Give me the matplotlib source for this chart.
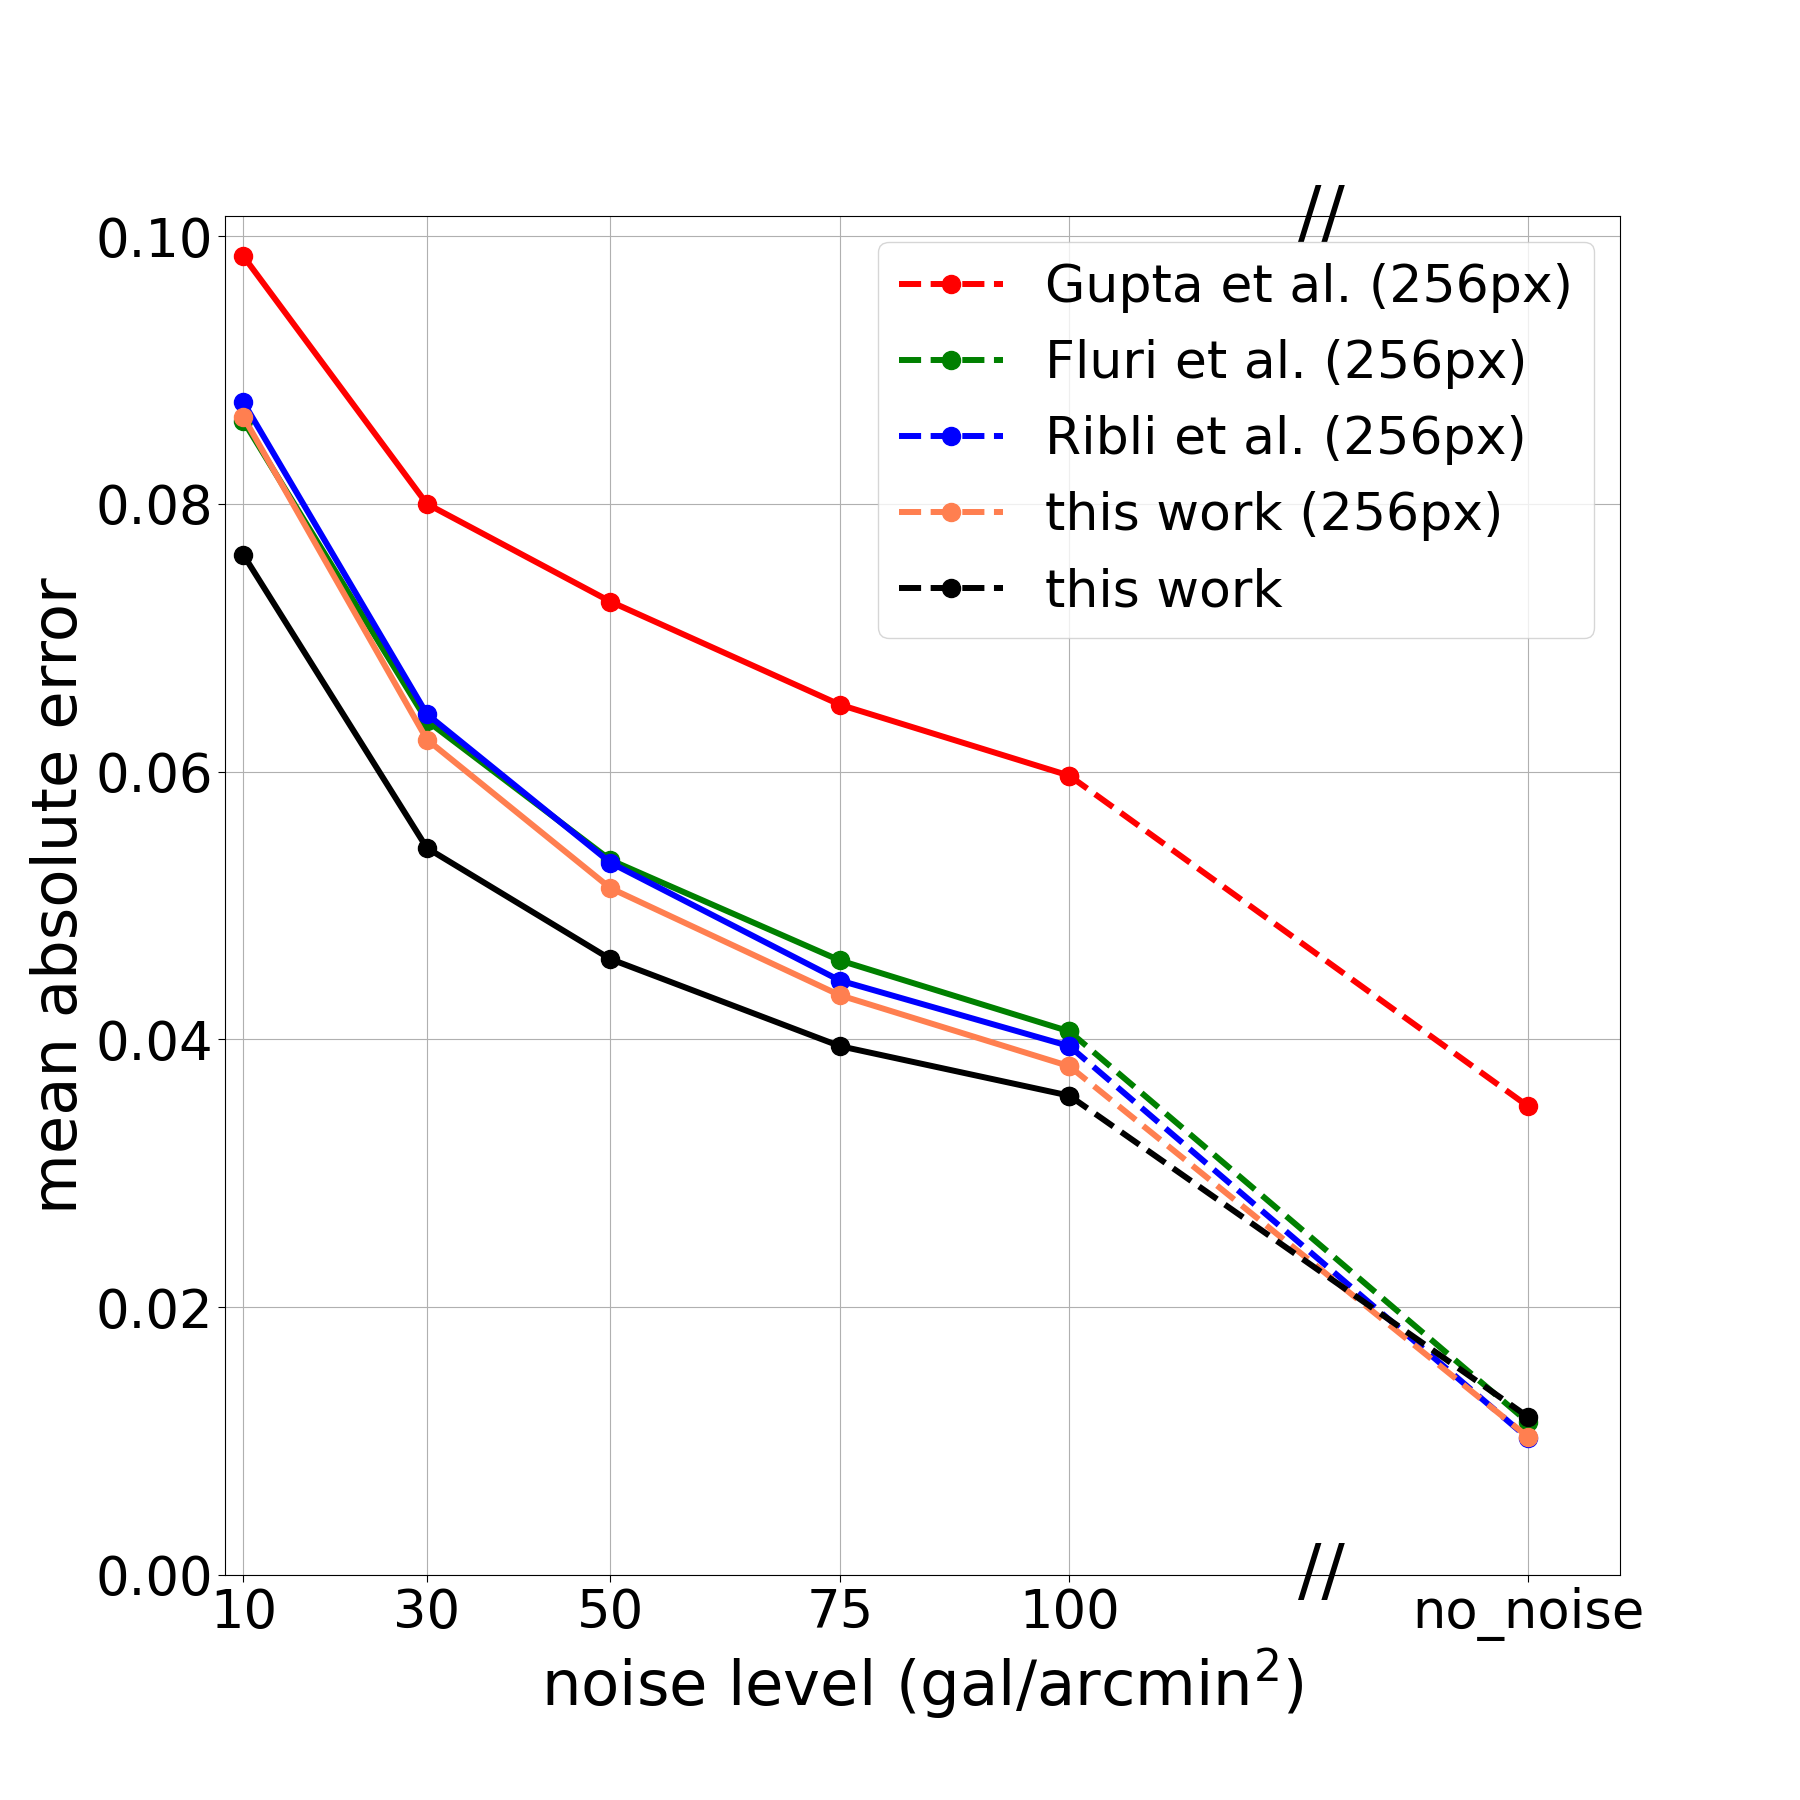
import matplotlib
matplotlib.use("Agg")
import matplotlib.pyplot as plt
import matplotlib.transforms as mtransforms

x_pos = [10, 30, 50, 75, 100, 150]
x_labels = ["10", "30", "50", "75", "100", "no_noise"]

gupta = [0.0985, 0.0800, 0.0727, 0.0650, 0.0597, 0.0350]
fluri = [0.0862, 0.0638, 0.0534, 0.0459, 0.0406, 0.0114]
ribli = [0.0876, 0.0643, 0.0532, 0.0444, 0.0395, 0.0102]
this_256 = [0.0865, 0.0624, 0.0513, 0.0433, 0.0380, 0.0103]
this_work = [0.0762, 0.0543, 0.0460, 0.0395, 0.0358, 0.0118]

series = [
    ("Gupta et al. (256px)", gupta, "red"),
    ("Fluri et al. (256px)", fluri, "green"),
    ("Ribli et al. (256px)", ribli, "blue"),
    ("this work (256px)", this_256, "coral"),
    ("this work", this_work, "black"),
]

fig = plt.figure(figsize=(18, 18), dpi=100)
ax = fig.add_subplot(111)
fig.subplots_adjust(left=0.125, right=0.9, top=0.88, bottom=0.125)

lw = 4.3
ms = 13
for label, vals, col in series:
    ax.plot(x_pos[:5], vals[:5], "-", color=col, lw=lw, marker="o", ms=ms)
    ax.plot(x_pos[4:], vals[4:], "--", color=col, lw=lw, marker="o", ms=ms, label=label)

ax.set_xlim(8, 160)
ax.set_ylim(0, 0.1015)
ax.set_xticks(x_pos)
ax.set_xticklabels(x_labels)
ax.set_yticks([0.0, 0.02, 0.04, 0.06, 0.08, 0.10])
ax.set_yticklabels(["0.00", "0.02", "0.04", "0.06", "0.08", "0.10"])
ax.tick_params(axis="both", labelsize=38, length=5)
ax.grid(True)

ax.set_xlabel("noise level (gal/arcmin$^2$)", fontsize=45)
ax.set_ylabel("mean absolute error", fontsize=45)

trans = mtransforms.blended_transform_factory(ax.transData, ax.transAxes)
ax.text(127.5, 1.0, "//", transform=trans, fontsize=50, ha="center", va="center", clip_on=False)
ax.text(127.5, 0.0, "//", transform=trans, fontsize=50, ha="center", va="center", clip_on=False)

ax.legend(loc="upper right", fontsize=37.5, labelspacing=0.5)

fig.savefig("out.png", dpi=100)
